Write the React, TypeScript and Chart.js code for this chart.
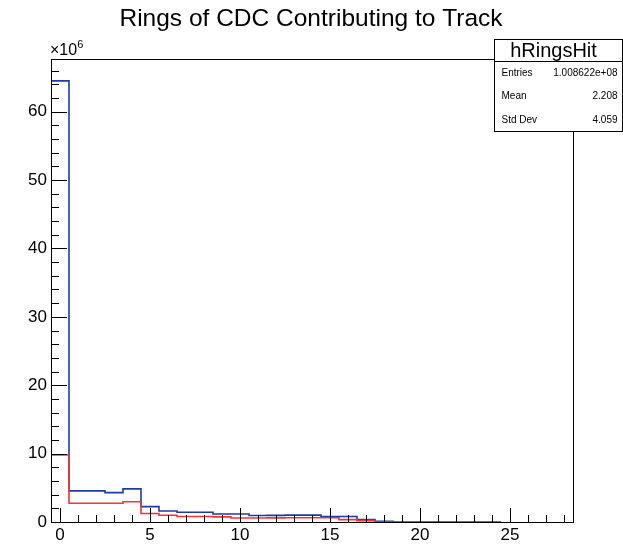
import { useEffect, useRef } from 'react';
import { Chart, registerables } from 'chart.js';

Chart.register(...registerables);

const titleText = 'Rings of CDC Contributing to Track';
const histName = 'hRingsHit';
const statLabels = ['Entries', 'Mean', 'Std Dev'];
const statValues = ['1.008622e+08', '2.208', '4.059'];

const binCenters = [0, 1, 2, 3, 4, 5, 6, 7, 8, 9, 10, 11, 12, 13, 14, 15, 16, 17, 18, 19, 20, 21, 22, 23, 24];
// counts in units of 10^6
const blueCounts = [64.5, 4.55, 4.55, 4.3, 4.85, 2.25, 1.6, 1.42, 1.42, 1.17, 1.17, 0.95, 0.97, 1.0, 1.0, 0.8, 0.8, 0.35, 0.1, 0, 0, 0, 0, 0, 0];
const redCounts = [9.8, 2.75, 2.75, 2.75, 2.95, 1.25, 0.98, 0.8, 0.8, 0.75, 0.58, 0.58, 0.6, 0.62, 0.62, 0.62, 0.35, 0.2, 0, 0, 0, 0, 0, 0, 0];

const xMajorTicks = [0, 5, 10, 15, 20, 25];
const xMinorTicks = [0, 1, 2, 3, 4, 5, 6, 7, 8, 9, 10, 11, 12, 13, 14, 15, 16, 17, 18, 19, 20, 21, 22, 23, 24, 25, 26, 27, 28];
const yMajorTicks = [0, 10, 20, 30, 40, 50, 60];
const yMinorTicks = [0, 2, 4, 6, 8, 10, 12, 14, 16, 18, 20, 22, 24, 26, 28, 30, 32, 34, 36, 38, 40, 42, 44, 46, 48, 50, 52, 54, 56, 58, 60, 62, 64, 66];

const X_MIN = -0.5;
const X_MAX = 28.5;
const Y_MAX = 67.7;

function toSteps(counts: number[]) {
  const pts = counts.map((v, i) => ({ x: binCenters[i] - 0.5, y: v }));
  const last = counts.length - 1;
  pts.push({ x: binCenters[last] + 0.5, y: counts[last] });
  return pts;
}

const FONT = '"Liberation Sans", Arial, Helvetica, sans-serif';

const rootPlugin = {
  id: 'rootDecor',
  afterDraw(chart: any) {
    const ctx = chart.ctx as CanvasRenderingContext2D;
    const { left, right, top, bottom } = chart.chartArea;
    const xs = chart.scales.x;
    const ys = chart.scales.y;
    ctx.save();
    ctx.strokeStyle = '#000';
    ctx.fillStyle = '#000';
    ctx.lineWidth = 1;
    // frame
    ctx.strokeRect(Math.round(left) + 0.5, Math.round(top) + 0.5, Math.round(right - left), Math.round(bottom - top));
    // ticks
    ctx.beginPath();
    xMinorTicks.forEach((t) => {
      const px = Math.round(xs.getPixelForValue(t)) + 0.5;
      const len = xMajorTicks.includes(t) ? 14 : 7;
      ctx.moveTo(px, bottom);
      ctx.lineTo(px, bottom - len);
    });
    yMinorTicks.forEach((t) => {
      const py = Math.round(ys.getPixelForValue(t)) + 0.5;
      const len = yMajorTicks.includes(t) ? 16 : 8;
      ctx.moveTo(left, py);
      ctx.lineTo(left + len, py);
    });
    ctx.stroke();
    // tick labels
    ctx.font = `17px ${FONT}`;
    ctx.fillStyle = '#000';
    ctx.textAlign = 'center';
    ctx.textBaseline = 'top';
    xMajorTicks.forEach((t) => {
      ctx.fillText(String(t), xs.getPixelForValue(t), bottom + 5);
    });
    ctx.textAlign = 'right';
    ctx.textBaseline = 'middle';
    yMajorTicks.forEach((t) => {
      ctx.fillText(String(t), left - 4, ys.getPixelForValue(t));
    });
    // exponent
    ctx.textAlign = 'left';
    ctx.textBaseline = 'alphabetic';
    ctx.font = `16px ${FONT}`;
    ctx.fillText('\u00d710', left - 1, top - 4);
    const w = ctx.measureText('\u00d710').width;
    ctx.font = `11px ${FONT}`;
    ctx.fillText('6', left - 1 + w, top - 11);
    // title
    ctx.font = `24.5px ${FONT}`;
    ctx.textAlign = 'center';
    ctx.textBaseline = 'middle';
    ctx.fillText(titleText, 311, 19);
    // stats box
    const bx = 494.5, by = 39.5, bw = 128, bh = 92;
    const sepY = 61.5;
    ctx.fillStyle = '#fff';
    ctx.fillRect(bx, by, bw, bh);
    ctx.strokeStyle = '#000';
    ctx.strokeRect(bx, by, bw, bh);
    ctx.beginPath();
    ctx.moveTo(bx, sepY);
    ctx.lineTo(bx + bw, sepY);
    ctx.stroke();
    ctx.fillStyle = '#000';
    ctx.font = `20px ${FONT}`;
    ctx.textAlign = 'center';
    ctx.fillText(histName, bx + bw / 2 - 5, (by + sepY) / 2 + 1);
    ctx.font = `10px ${FONT}`;
    const rowH = (by + bh - sepY) / statLabels.length;
    statLabels.forEach((lab, i) => {
      const yy = sepY + rowH * (i + 0.5);
      ctx.textAlign = 'left';
      ctx.fillText(lab, bx + 7, yy);
      ctx.textAlign = 'right';
      ctx.fillText(statValues[i], bx + bw - 5, yy);
    });
    ctx.restore();
  },
};

export default function App() {
  const ref = useRef<HTMLCanvasElement | null>(null);
  useEffect(() => {
    if (!ref.current) return;
    const chart = new Chart(ref.current, {
      type: 'line',
      data: {
        datasets: [
          {
            label: 'red',
            data: toSteps(redCounts),
            borderColor: '#ff3030',
            borderWidth: 1.6,
            pointRadius: 0,
            stepped: 'before',
            fill: false,
          },
          {
            label: 'blue',
            data: toSteps(blueCounts),
            borderColor: '#1c3ca8',
            borderWidth: 1.6,
            pointRadius: 0,
            stepped: 'before',
            fill: false,
          },
        ],
      },
      options: {
        responsive: false,
        animation: false,
        events: [],
        layout: { padding: { left: 51, right: 50, top: 59, bottom: 22 } },
        plugins: { legend: { display: false }, tooltip: { enabled: false }, title: { display: false } },
        scales: {
          x: { type: 'linear', min: X_MIN, max: X_MAX, display: false },
          y: { type: 'linear', min: 0, max: Y_MAX, display: false },
        },
      },
      plugins: [rootPlugin],
    });
    return () => chart.destroy();
  }, []);
  return (
    <canvas
      ref={ref}
      width={623}
      height={544}
      style={{ position: 'absolute', left: 0, top: 0, width: 623, height: 544, background: '#fff' }}
    />
  );
}
